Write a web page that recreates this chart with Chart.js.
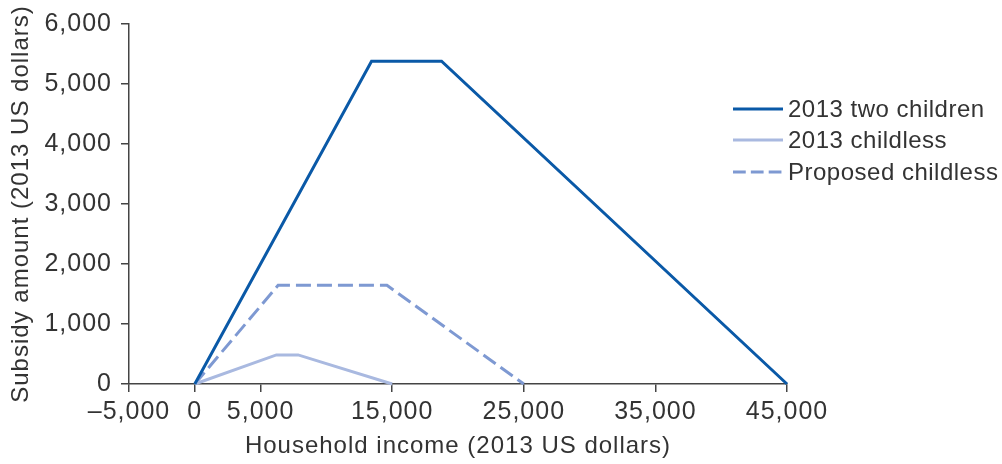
<!DOCTYPE html>
<html>
<head>
<meta charset="utf-8">
<script src="https://cdn.jsdelivr.net/npm/chart.js@4.4.1/dist/chart.umd.min.js"></script>
<style>
  html, body { margin: 0; padding: 0; background: #fff; }
  #wrap { position: relative; width: 1002px; height: 464px; }
  #legend { position: absolute; left: 733px; top: 93px; font: 24px 'Liberation Sans', Arial, sans-serif; letter-spacing: 0.5px; color: #333; }
  #legend .row { display: flex; align-items: center; height: 31.5px; white-space: nowrap; }
  #legend svg { margin-right: 5px; }
</style>
</head>
<body>
<div id="wrap">
  <canvas id="eitcChart"></canvas>
  <div id="legend"></div>
</div>
<script>
// values
const seriesNames = ['2013 two children', '2013 childless', 'Proposed childless'];
const twoChildrenIncome = [0, 13430, 18750, 45000];
const twoChildrenSubsidy = [0, 5380, 5380, 0];
const childlessIncome = [0, 6200, 7850, 15000];
const childlessSubsidy = [0, 485, 485, 0];
const proposedIncome = [0, 6330, 14600, 25000];
const proposedSubsidy = [0, 1645, 1645, 0];
const xTickValues = [-5000, 0, 5000, 15000, 25000, 35000, 45000];
const yTickValues = [0, 1000, 2000, 3000, 4000, 5000, 6000];

const axisColor = '#444';
const textColor = '#333';
const fontFamily = "'Liberation Sans', Arial, sans-serif";

function pairs(xs, ys) {
    return xs.map((x, i) => ({ x: x, y: ys[i] }));
}

function fmt(v) {
    const s = Math.abs(v).toLocaleString('en-US');
    return v < 0 ? '\u2013' + s : s;
}

const datasets = [
    {
        label: seriesNames[0],
        data: pairs(twoChildrenIncome, twoChildrenSubsidy),
        borderColor: '#0a59a7',
        borderWidth: 3,
        borderDash: []
    },
    {
        label: seriesNames[1],
        data: pairs(childlessIncome, childlessSubsidy),
        borderColor: '#a9b9e0',
        borderWidth: 3,
        borderDash: []
    },
    {
        label: seriesNames[2],
        data: pairs(proposedIncome, proposedSubsidy),
        borderColor: '#7e99d2',
        borderWidth: 3,
        borderDash: [15, 6]
    }
];
datasets.forEach(d => {
    d.pointRadius = 0;
    d.pointHoverRadius = 0;
    d.tension = 0;
    d.fill = false;
    d.clip = false;
    d.borderJoinStyle = 'miter';
});

// the reference type is set a little wider than the installed fonts
const letterSpacingPlugin = {
    id: 'letterSpacing',
    beforeDraw(chart) { chart.ctx.letterSpacing = '1px'; }
};

const ctx = document.getElementById('eitcChart').getContext('2d');
const eitcChart = new Chart(ctx, {
    type: 'line',
    data: { datasets: datasets },
    plugins: [letterSpacingPlugin],
    options: {
        responsive: true,
        maintainAspectRatio: false,
        animation: false,
        events: [],
        layout: { padding: { top: 23, right: 215, bottom: 0, left: 0 } },
        plugins: {
            legend: { display: false },
            tooltip: { enabled: false }
        },
        scales: {
            x: {
                type: 'linear',
                min: -5000,
                max: 45000,
                afterBuildTicks: scale => { scale.ticks = xTickValues.map(v => ({ value: v })); },
                afterFit: scale => { scale.height = 80; },
                grid: { drawOnChartArea: false, drawTicks: true, tickLength: 8, color: axisColor, lineWidth: 1.5 },
                border: { display: true, color: axisColor, width: 1.5 },
                ticks: {
                    autoSkip: false,
                    maxRotation: 0,
                    padding: 5,
                    color: textColor,
                    font: { family: fontFamily, size: 25 },
                    callback: v => fmt(v)
                },
                title: {
                    display: true,
                    text: 'Household income (2013 US dollars)',
                    color: textColor,
                    font: { family: fontFamily, size: 24 },
                    padding: { top: 0, bottom: 3 }
                }
            },
            y: {
                min: 0,
                max: 6000,
                afterBuildTicks: scale => { scale.ticks = yTickValues.map(v => ({ value: v })); },
                afterFit: scale => { scale.width = 129; },
                grid: { drawOnChartArea: false, drawTicks: true, tickLength: 8, color: axisColor, lineWidth: 1.5 },
                border: { display: true, color: axisColor, width: 1.5 },
                ticks: {
                    padding: 9,
                    color: textColor,
                    font: { family: fontFamily, size: 25 },
                    callback: v => fmt(v)
                },
                title: {
                    display: true,
                    text: 'Subsidy amount (2013 US dollars)',
                    color: textColor,
                    font: { family: fontFamily, size: 24 },
                    padding: { top: 7, bottom: 0 }
                }
            }
        }
    }
});

// legend built from the chart's own datasets
const legendEl = document.getElementById('legend');
eitcChart.data.datasets.forEach(ds => {
    const row = document.createElement('div');
    row.className = 'row';
    const dash = ds.borderDash && ds.borderDash.length ? ds.borderDash.map(n => n * 0.85).join(' ') : 'none';
    row.innerHTML =
        '<svg width="50" height="6"><line x1="0" y1="3" x2="50" y2="3" stroke="' + ds.borderColor +
        '" stroke-width="' + ds.borderWidth + '" stroke-dasharray="' + dash + '"/></svg>';
    const label = document.createElement('span');
    label.textContent = ds.label;
    row.appendChild(label);
    legendEl.appendChild(row);
});
</script>
</body>
</html>
